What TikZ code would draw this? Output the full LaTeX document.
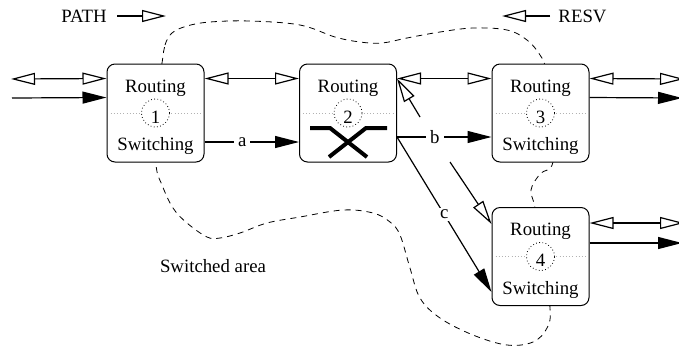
\documentclass[tikz,border=0pt]{standalone}
\usepackage{fontspec}
\setmainfont{Liberation Serif}
\usetikzlibrary{arrows.meta,calc}
\tikzset{
  oTri/.tip={Triangle[open,length=12pt,width=6pt]},
  fTri/.tip={Triangle[length=12pt,width=6pt]}
}
\begin{document}
\begin{tikzpicture}[x=0.5pt,y=-0.5pt,
  box/.style={draw, line width=0.5pt, rounded corners=4pt, fill=white, minimum width=48.5pt, minimum height=49pt, inner sep=0pt},
  txt/.style={font=\fontsize{9.4}{11}\selectfont, inner sep=0.5pt},
  conn/.style={line width=0.6pt},
  dbl/.style={conn, oTri-oTri},
  fil/.style={conn, -fTri},
  opn/.style={conn, -oTri},
  lab/.style={txt, fill=white, inner sep=2pt},
  area/.style={line width=0.4pt, dash pattern=on 3pt off 2.5pt},
  guide/.style={gray!60, line width=0.4pt, dash pattern=on 0.4pt off 1.2pt},
  ring/.style={line width=0.4pt, dash pattern=on 0.4pt off 1.2pt, fill=white},
  xbar/.style={line width=2pt}
]
\clip (0,0) rectangle (679,349);
% switched area
\draw[area] plot[smooth cycle, tension=0.6] coordinates {
  (162,63) (165,45) (172,33) (187,26) (210,22) (250,21) (300,25) (335,37) (360,42) (382,43)
  (407,38) (440,32) (473,28) (507,30) (527,40) (540,55) (546,70) (552,113) (553,162)
  (540,174) (531,190) (535,208) (542,256) (550,308) (547,328) (533,342) (507,345)
  (473,335) (440,318) (420,298) (410,268) (400,235) (390,222) (373,213) (343,210)
  (300,217) (267,223) (240,233) (220,238) (207,237) (187,223) (173,208) (162,185)
  (156,165) (154,113)};
% boxes
\node[box] (b1) at (155.5,113) {};
\node[box] (b2) at (348,113) {};
\node[box] (b3) at (540.5,113) {};
\node[box] (b4) at (540.5,256.5) {};
\foreach \b/\n in {b1/1,b2/2,b3/3,b4/4}{
  \draw[guide] ([xshift=2pt]\b.west) -- ([xshift=-2pt]\b.east);
  \draw[ring] (\b.center) circle[radius=7pt];
  \node[txt] (n\n) at ($(\b.center)+(0,4)$) {\n};
  \node[txt] (r\n) at ($(\b.center)+(0,-25)$) {Routing};
}
\node[txt] (s1) at ($(b1.center)+(0,33)$) {Switching};
\node[txt] (s3) at ($(b3.center)+(0,33)$) {Switching};
\node[txt] (s4) at ($(b4.center)+(0,33)$) {Switching};
% crossbar in node 2
\draw[xbar] ($(b2.center)+(-38,15)$) -- ($(b2.center)+(-18,15)$) -- ($(b2.center)+(19,44)$);
\draw[xbar] ($(b2.center)+(39,15)$) -- ($(b2.center)+(18,15)$) -- ($(b2.center)+(-19,44)$);
% free ends
\coordinate (l1) at (11,79);
\coordinate (l2) at (12,98);
\coordinate (e1) at (684,79);
\coordinate (e2) at (682,98);
\coordinate (e3) at (684,223);
\coordinate (e4) at (682,243);
\coordinate (d1) at (420,117);
\coordinate (d2) at (450,162);
% connectors
\draw[dbl] (l1) -- ([yshift=-7.5pt]b1.north west);
\draw[fil] (l2) -- ([yshift=-17pt]b1.north west);
\draw[dbl] ([yshift=-7.5pt]b1.north east) -- ([yshift=-7.5pt]b2.north west);
\draw[dbl] ([yshift=-7.5pt]b2.north east) -- ([yshift=-7.5pt]b3.north west);
\draw[dbl] ([yshift=-7.5pt]b3.north east) -- (e1);
\draw[fil] ([yshift=-17pt]b3.north east) -- (e2);
\draw[dbl] ([yshift=16.75pt]b4.east) -- (e3);
\draw[fil] ([yshift=6.75pt]b4.east) -- (e4);
\draw[fil] ([yshift=-14.5pt]b1.east) -- node[lab, pos=0.4] (la) {a} ([yshift=-14.5pt]b2.west);
\draw[fil] ([yshift=-12pt]b2.east) -- node[lab, pos=0.4] (lb) {b} ([yshift=-12pt]b3.west);
\draw[fil] ([yshift=-12pt]b2.east) -- node[lab, pos=0.5, inner sep=1pt] (lc) {c} ([yshift=-17.75pt]b4.west);
\draw[opn] (d1) -- ([yshift=-7.5pt]b2.north east);
\draw[opn] (d2) -- ([yshift=16.25pt]b4.west);
% legend
\node[txt] (path) at (84,16) {PATH};
\coordinate (p1) at (117,16);
\coordinate (p2) at (166,16);
\draw[opn] (p1) -- (p2);
\node[txt] (resv) at (582.5,16) {RESV};
\coordinate (q1) at (550,16);
\coordinate (q2) at (502,16);
\draw[opn] (q1) -- (q2);
\node[txt] (sw) at (213,266) {Switched area};
\end{tikzpicture}
\end{document}
